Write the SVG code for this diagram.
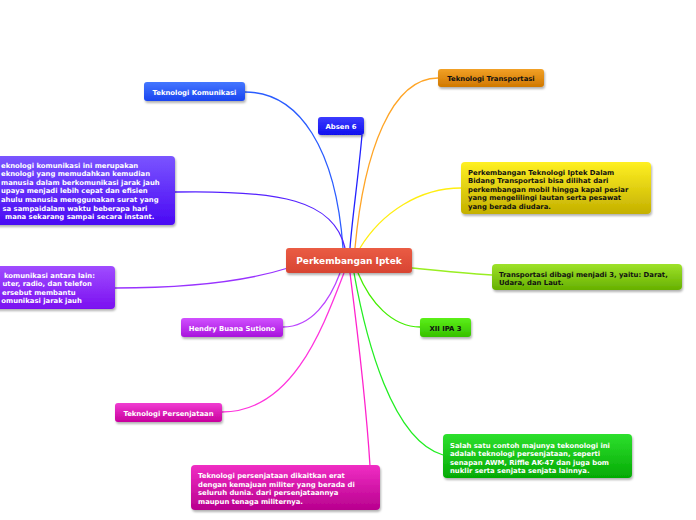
<svg xmlns="http://www.w3.org/2000/svg" width="696" height="520" viewBox="0 0 696 520">
<defs>
<filter id="sh" x="-10%" y="-20%" width="130%" height="160%"><feDropShadow dx="1" dy="2" stdDeviation="1.2" flood-color="#000" flood-opacity="0.3"/></filter>
<linearGradient id="gRed" x1="0" y1="0" x2="0" y2="1"><stop offset="0" stop-color="#ea5c44"/><stop offset="1" stop-color="#d84432"/></linearGradient>
<linearGradient id="gBlue" x1="0" y1="0" x2="0" y2="1"><stop offset="0" stop-color="#4477ff"/><stop offset="1" stop-color="#1a44f0"/></linearGradient>
<linearGradient id="gAbs" x1="0" y1="0" x2="0" y2="1"><stop offset="0" stop-color="#3c3cff"/><stop offset="1" stop-color="#1010ee"/></linearGradient>
<linearGradient id="gOra" x1="0" y1="0" x2="0" y2="1"><stop offset="0" stop-color="#f2a126"/><stop offset="1" stop-color="#d07800"/></linearGradient>
<linearGradient id="gPur1" x1="0" y1="0" x2="0" y2="1"><stop offset="0" stop-color="#7a55ff"/><stop offset="1" stop-color="#4a08f4"/></linearGradient>
<linearGradient id="gPur2" x1="0" y1="0" x2="0" y2="1"><stop offset="0" stop-color="#a04cff"/><stop offset="1" stop-color="#7a10f0"/></linearGradient>
<linearGradient id="gYel" x1="0" y1="0" x2="0" y2="1"><stop offset="0" stop-color="#fff022"/><stop offset="1" stop-color="#c4b000"/></linearGradient>
<linearGradient id="gLime" x1="0" y1="0" x2="0" y2="1"><stop offset="0" stop-color="#9ee22a"/><stop offset="1" stop-color="#66b000"/></linearGradient>
<linearGradient id="gXii" x1="0" y1="0" x2="0" y2="1"><stop offset="0" stop-color="#5cf018"/><stop offset="1" stop-color="#36c000"/></linearGradient>
<linearGradient id="gGrn" x1="0" y1="0" x2="0" y2="1"><stop offset="0" stop-color="#2ee02e"/><stop offset="1" stop-color="#04aa04"/></linearGradient>
<linearGradient id="gMag" x1="0" y1="0" x2="0" y2="1"><stop offset="0" stop-color="#f02ec4"/><stop offset="1" stop-color="#b8008e"/></linearGradient>
<linearGradient id="gHen" x1="0" y1="0" x2="0" y2="1"><stop offset="0" stop-color="#d050ff"/><stop offset="1" stop-color="#a814dc"/></linearGradient>
<linearGradient id="gPer" x1="0" y1="0" x2="0" y2="1"><stop offset="0" stop-color="#f03cd2"/><stop offset="1" stop-color="#c8009c"/></linearGradient>
</defs>
<style>
.box{filter:url(#sh)}
text{font-family:"DejaVu Sans",Verdana,sans-serif;font-weight:bold;font-size:6.85px}
.w{fill:#fff}
.k{fill:#111}
.c{text-anchor:middle}
.t{font-size:9px}
.ln{fill:none;stroke-width:1.3}
</style>
<g id="connectors">
<path class="ln" stroke="#2a5cff" d="M245,92 C300,92 336,150 343,248"/>
<path class="ln" stroke="#2222ff" d="M362,135 C358,180 352,220 350,248"/>
<path class="ln" stroke="#ffa526" d="M438,78 C392,78 364,150 355,248"/>
<path class="ln" stroke="#ffee11" d="M461,188 C420,188 382,212 360,248"/>
<path class="ln" stroke="#99ee22" d="M492,275 C460,273 432,270 412,268"/>
<path class="ln" stroke="#44ee00" d="M420,327 C392,327 370,302 358,273"/>
<path class="ln" stroke="#22ee22" d="M443,455 C392,440 366,340 354,273"/>
<path class="ln" stroke="#ff22cc" d="M370,466 C366,400 356,320 350,273"/>
<path class="ln" stroke="#ff33dd" d="M222,412 C292,412 322,330 344,273"/>
<path class="ln" stroke="#bb44ff" d="M283,327 C312,327 330,300 340,273"/>
<path class="ln" stroke="#9933ff" d="M115,288 C200,288 250,280 288,268"/>
<path class="ln" stroke="#5522ff" d="M175,192 C280,190 334,200 345,248"/>
</g>
<g id="center">
<rect class="box" x="286" y="248" width="126" height="25" rx="3" fill="url(#gRed)"/>
<text class="w c t" x="349" y="264">Perkembangan Iptek</text>
</g>
<g id="komunikasi">
<rect class="box" x="144" y="82" width="101" height="19" rx="3" fill="url(#gBlue)"/>
<text class="w c" x="194.5" y="94.5">Teknologi Komunikasi</text>
</g>
<g id="absen">
<rect class="box" x="318" y="117" width="46" height="18" rx="3" fill="url(#gAbs)"/>
<text class="w c" x="341" y="129">Absen 6</text>
</g>
<g id="transportasi">
<rect class="box" x="438" y="69" width="106" height="18" rx="3" fill="url(#gOra)"/>
<text class="k c" x="491" y="81">Teknologi Transportasi</text>
</g>
<g id="komdesc">
<rect class="box" x="-10" y="156" width="185" height="69" rx="4" fill="url(#gPur1)"/>
<text class="w" x="1" y="167.5">eknologi komunikasi ini merupakan</text>
<text class="w" x="1" y="176.1">eknologi yang memudahkan kemudian</text>
<text class="w" x="1" y="184.7">manusia dalam berkomunikasi jarak jauh</text>
<text class="w" x="1" y="193.3">upaya menjadi lebih cepat dan efisien</text>
<text class="w" x="1" y="201.9">ahulu manusia menggunakan surat yang</text>
<text class="w" x="2.5" y="210.5">sa sampaidalam waktu beberapa hari</text>
<text class="w" x="5" y="219.1">mana sekarang sampai secara instant.</text>
</g>
<g id="komalat">
<rect class="box" x="-10" y="266" width="125" height="43" rx="4" fill="url(#gPur2)"/>
<text class="w" x="4" y="277.5">komunikasi antara lain:</text>
<text class="w" x="2.5" y="286">uter, radio, dan telefon</text>
<text class="w" x="2" y="294.6">ersebut membantu</text>
<text class="w" x="1.3" y="303">omunikasi jarak jauh</text>
</g>
<g id="hendry">
<rect class="box" x="181" y="318" width="102" height="19" rx="3" fill="url(#gHen)"/>
<text class="w c" x="232" y="330.5">Hendry Buana Sutiono</text>
</g>
<g id="persenjataan">
<rect class="box" x="115" y="403" width="107" height="19" rx="3" fill="url(#gPer)"/>
<text class="w c" x="168.5" y="415.5">Teknologi Persenjataan</text>
</g>
<g id="senjatadesc">
<rect class="box" x="191" y="465" width="189" height="45" rx="4" fill="url(#gMag)"/>
<text class="w" x="198" y="478">Teknologi persenjataan dikaitkan erat</text>
<text class="w" x="198" y="486.7">dengan kemajuan militer yang berada di</text>
<text class="w" x="198" y="495.3">seluruh dunia. dari persenjataannya</text>
<text class="w" x="198" y="504">maupun tenaga militernya.</text>
</g>
<g id="transdesc">
<rect class="box" x="461" y="162" width="190" height="52" rx="4" fill="url(#gYel)"/>
<text class="k" x="468" y="174.5">Perkembangan Teknologi Iptek Dalam</text>
<text class="k" x="468" y="183">Bidang Transportasi bisa dilihat dari</text>
<text class="k" x="468" y="191.5">perkembangan mobil hingga kapal pesiar</text>
<text class="k" x="468" y="200">yang mengelilingi lautan serta pesawat</text>
<text class="k" x="468" y="208.5">yang berada diudara.</text>
</g>
<g id="transbagi">
<rect class="box" x="492" y="264" width="190" height="26" rx="4" fill="url(#gLime)"/>
<text class="k" x="499" y="276.5">Transportasi dibagi menjadi 3, yaitu: Darat,</text>
<text class="k" x="499" y="285">Udara, dan Laut.</text>
</g>
<g id="xii">
<rect class="box" x="420" y="318" width="51" height="19" rx="3" fill="url(#gXii)"/>
<text class="k c" x="445.5" y="330.5">XII IPA 3</text>
</g>
<g id="contoh">
<rect class="box" x="443" y="434" width="189" height="44" rx="4" fill="url(#gGrn)"/>
<text class="w" x="450" y="447.5">Salah satu contoh majunya tekonologi ini</text>
<text class="w" x="450" y="456">adalah teknologi persenjataan, seperti</text>
<text class="w" x="450" y="464.5">senapan AWM, Riffle AK-47 dan juga bom</text>
<text class="w" x="450" y="473">nuklir serta senjata senjata lainnya.</text>
</g>
</svg>
